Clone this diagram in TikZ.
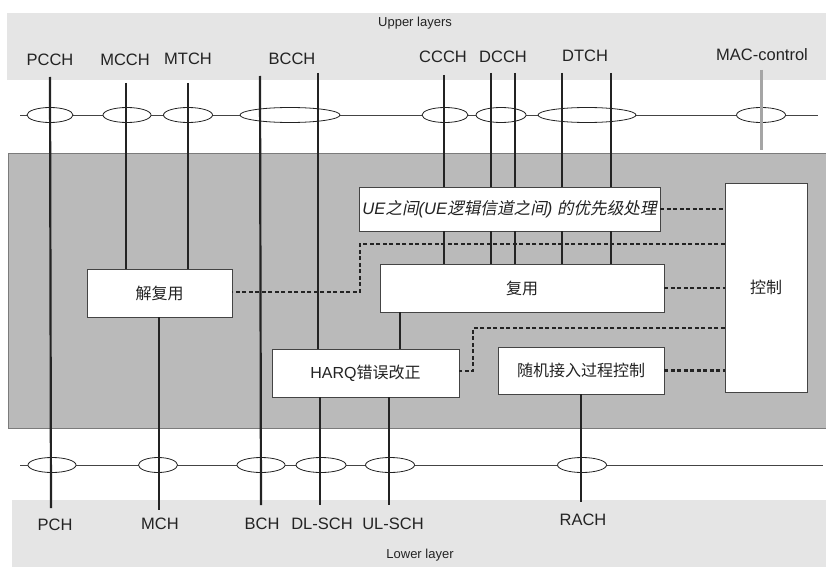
\documentclass[tikz,border=0pt]{standalone}
\usepackage{fontspec}
\setmainfont{Liberation Sans}
\newfontfamily\cjk{Noto Sans CJK SC}
\newfontfamily\cjkit[FakeSlant=0.2]{Noto Sans CJK SC}
\usetikzlibrary{shapes.geometric}
\definecolor{upband}{RGB}{229,229,229}
\definecolor{midband}{RGB}{186,186,186}
\definecolor{ink}{RGB}{35,35,35}
\definecolor{macgray}{RGB}{165,165,165}
\begin{document}
\begin{tikzpicture}[x=1pt,y=-1pt,
  lbl/.style={font=\fontsize{16.5}{18}\selectfont, text=ink, inner sep=0},
  small/.style={font=\fontsize{13}{15}\selectfont, text=ink, inner sep=0},
  chell/.style={ellipse, draw=ink, line width=0.8pt, fill=white, minimum height=15pt, inner sep=0},
  hline/.style={draw=ink!85, line width=0.9pt},
  vline/.style={draw=ink, line width=2.2pt},
  macline/.style={draw=macgray, line width=3pt},
  box/.style={rectangle, draw=ink!85, line width=0.8pt, fill=white, inner sep=0, font=\fontsize{16}{18}\selectfont, text=ink},
  ctl/.style={draw=ink, line width=2.2pt, dash pattern=on 4pt off 2.5pt}
]
\useasboundingbox (0,0) rectangle (826,567);
% bands
\fill[upband] (7,13) rectangle (826,80);
\fill[midband] (8,153) rectangle (826,428);
\draw[ink!60, line width=0.5pt] (8,153) rectangle (826,428);
\fill[upband] (12,500) rectangle (826,567);

\node[small] (upl) at (415,23) {Upper layers};
\node[small] (lowl) at (420,555) {Lower layer};

% channel labels
\node[lbl] (lPCCH) at (50,60) {PCCH};
\node[lbl] (lMCCH) at (125,60) {MCCH};
\node[lbl] (lMTCH) at (188,59) {MTCH};
\node[lbl] (lBCCH) at (292,59) {BCCH};
\node[lbl] (lCCCH) at (443,57) {CCCH};
\node[lbl] (lDCCH) at (503,57) {DCCH};
\node[lbl] (lDTCH) at (585,56) {DTCH};
\node[lbl] (lMAC) at (762,55) {MAC-control};
\node[lbl] (lPCH) at (55,525) {PCH};
\node[lbl] (lMCH) at (160,524) {MCH};
\node[lbl] (lBCH) at (262,524) {BCH};
\node[lbl] (lDL) at (322,524) {DL-SCH};
\node[lbl] (lUL) at (393,524) {UL-SCH};
\node[lbl] (lRACH) at (583,520) {RACH};

% horizontal lines
\coordinate (hu1) at (20,115); \coordinate (hu2) at (818,115);
\coordinate (hl1) at (20,465); \coordinate (hl2) at (823,465);
\draw[hline] (hu1) -- (hu2);
\draw[hline] (hl1) -- (hl2);

% upper ellipses
\node[chell, minimum width=46pt] (ePCCH) at (50,115) {};
\node[chell, minimum width=48pt] (eMCCH) at (127,115) {};
\node[chell, minimum width=49pt] (eMTCH) at (188,115) {};
\node[chell, minimum width=100pt] (eBCCH) at (290,115) {};
\node[chell, minimum width=46pt] (eCCCH) at (445,115) {};
\node[chell, minimum width=50pt] (eDCCH) at (501,115) {};
\node[chell, minimum width=98pt] (eDTCH) at (587,115) {};
\node[chell, minimum width=49pt] (eMAC) at (761,115) {};
% lower ellipses
\node[chell, minimum width=48pt] (ePCH) at (52,465) {};
\node[chell, minimum width=39pt] (eMCH) at (158,465) {};
\node[chell, minimum width=48pt] (eBCH) at (261,465) {};
\node[chell, minimum width=50pt] (eDL) at (321,465) {};
\node[chell, minimum width=49pt] (eUL) at (390,465) {};
\node[chell, minimum width=49pt] (eRACH) at (582,465) {};

% boxes
\node[box, minimum width=301pt, minimum height=44pt, font=\fontsize{16.6}{18}\selectfont] (ue) at (509.5,209)
  {\itshape UE{\cjkit 之间}(UE{\cjkit 逻辑信道之间}) {\cjkit 的优先级处理}};
\node[box, minimum width=145pt, minimum height=48pt] (demux) at (159.5,293) {\cjk 解复用};
\node[box, minimum width=284pt, minimum height=48pt] (mux) at (522,288) {\cjk 复用};
\node[box, minimum width=187pt, minimum height=48pt] (harq) at (365.5,373) {HARQ\cjk 错误改正};
\node[box, minimum width=166pt, minimum height=47pt] (ra) at (581,370.5) {\cjk 随机接入过程控制};
\node[box, minimum width=82pt, minimum height=209pt] (ctrl) at (766,287.5) {\cjk 控制};

% line end coordinates
\coordinate (t1) at (50,77);
\coordinate (t2) at (126,83);
\coordinate (t3) at (188,83);
\coordinate (t4) at (260,76);
\coordinate (t5) at (318,73);
\coordinate (t6) at (444,75);
\coordinate (t7) at (491,73);
\coordinate (t8) at (515,73);
\coordinate (t9) at (562,73);
\coordinate (t10) at (611,73);
\coordinate (t11) at (761,70);
\coordinate (t11b) at (761,150);
\coordinate (b1) at (51,508);
\coordinate (b2) at (159,510);
\coordinate (b3) at (261,505);
\coordinate (b4) at (320,505);
\coordinate (b5) at (389,505);
\coordinate (b6) at (581,502);
\coordinate (m1) at (400,312);

% solid channel lines
\draw[vline] (t1) -- (b1);
\draw[vline] (t2) -- (t2 |- demux.north);
\draw[vline] (t3) -- (t3 |- demux.north);
\draw[vline] (demux.south -| b2) -- (b2);
\draw[vline] (t4) -- (b3);
\draw[vline] (t5) -- (t5 |- harq.north);
\draw[vline] (harq.south -| b4) -- (b4);
\draw[vline] (harq.south -| b5) -- (b5);
\draw[vline] (mux.south -| m1) -- (harq.north -| m1);
\foreach \k in {t6,t7,t8,t9,t10}{
  \draw[vline] (\k) -- (\k |- ue.north);
  \draw[vline] (ue.south -| \k) -- (mux.north -| \k);
}
\draw[vline] (ra.south -| b6) -- (b6);
\draw[macline] (t11) -- (t11b);

% dashed control lines
\coordinate (d1) at (360,244); \coordinate (d2) at (360,292);
\coordinate (h1) at (473,328); \coordinate (h2) at (473,371);
\draw[ctl] (ue.east) -- (ue.east -| ctrl.west);
\draw[ctl] (ctrl.west |- d1) -- (d1) -- (d2) -- (demux.east |- d2);
\draw[ctl] (mux.east) -- (mux.east -| ctrl.west);
\draw[ctl] (ctrl.west |- h1) -- (h1) -- (h2) -- (harq.east |- h2);
\draw[ctl] (ra.east) -- (ra.east -| ctrl.west);
\end{tikzpicture}
\end{document}
